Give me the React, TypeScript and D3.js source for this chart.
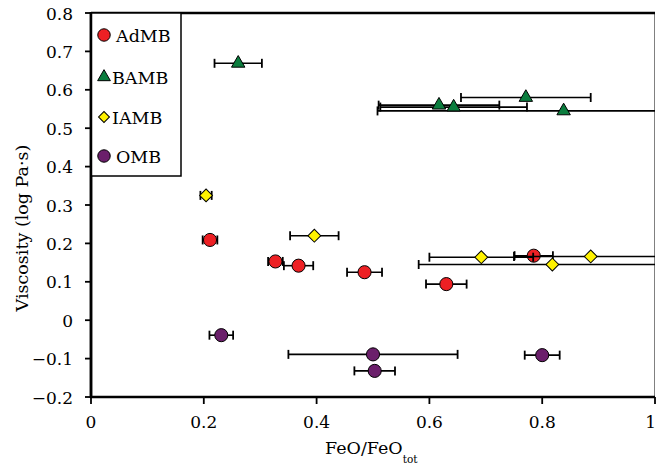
import { useEffect, useRef } from 'react';
import * as d3 from 'd3';

// FeO/FeOtot (x), viscosity log Pa·s (y), x error half-width
const admbX = [0.211, 0.327, 0.368, 0.485, 0.63, 0.785];
const admbY = [0.209, 0.153, 0.142, 0.125, 0.094, 0.168];
const admbErr = [0.013, 0.013, 0.026, 0.031, 0.036, 0.034];

const bambX = [0.261, 0.617, 0.643, 0.771, 0.838];
const bambY = [0.669, 0.56, 0.555, 0.58, 0.545];
const bambErr = [0.042, 0.107, 0.13, 0.115, 0.33];

const iambX = [0.204, 0.396, 0.692, 0.886, 0.818];
const iambY = [0.325, 0.22, 0.164, 0.166, 0.145];
const iambErr = [0.01, 0.043, 0.092, 0.136, 0.237];

const ombX = [0.231, 0.5, 0.503, 0.8];
const ombY = [-0.039, -0.089, -0.132, -0.091];
const ombErr = [0.021, 0.15, 0.036, 0.031];

const seriesNames = ['AdMB', 'BAMB', 'IAMB', 'OMB'];
const xTicks = [0, 0.2, 0.4, 0.6, 0.8, 1];
const yTicks = [-0.2, -0.1, 0, 0.1, 0.2, 0.3, 0.4, 0.5, 0.6, 0.7, 0.8];

const FONT = "'DejaVu Serif', serif";

export default function App() {
    const svgRef = useRef<SVGSVGElement>(null);

    useEffect(() => {
        if (!svgRef.current) return;
        const W = 656, H = 468;
        const left = 91, right = 655, top = 13, bottom = 397;

        const x = d3.scaleLinear().domain([0, 1]).range([left, right]);
        const y = d3.scaleLinear().domain([-0.2, 0.8]).range([bottom, top]);

        const series = [
            { name: seriesNames[0], xs: admbX, ys: admbY, err: admbErr, shape: 'circle', fill: '#ed2024' },
            { name: seriesNames[1], xs: bambX, ys: bambY, err: bambErr, shape: 'triangle', fill: '#0b7d3e' },
            { name: seriesNames[2], xs: iambX, ys: iambY, err: iambErr, shape: 'diamond', fill: '#fff200' },
            { name: seriesNames[3], xs: ombX, ys: ombY, err: ombErr, shape: 'circle', fill: '#6b1f6b' },
        ];

        const symbolPath = (shape: string, scale = 1) => {
            if (shape === 'triangle') return d3.symbol(d3.symbolTriangle, 78 * scale * scale)()!;
            if (shape === 'diamond') return d3.symbol(d3.symbolSquare, 82 * scale * scale)()!;
            return d3.symbol(d3.symbolCircle, 135 * scale * scale)()!;
        };

        const svg = d3.select(svgRef.current);
        svg.selectAll('*').remove();
        svg.attr('width', W).attr('height', H).style('font-family', FONT);

        svg.append('rect').attr('width', W).attr('height', H).attr('fill', '#fff');

        const defs = svg.append('defs');
        defs.append('clipPath').attr('id', 'plot-clip')
            .append('rect').attr('x', left).attr('y', top - 2).attr('width', right - left).attr('height', bottom - top + 4);

        // plot frame: thin grey right side, heavy top
        svg.append('line').attr('x1', right - 0.5).attr('x2', right - 0.5).attr('y1', top).attr('y2', bottom)
            .attr('stroke', '#808080').attr('stroke-width', 1);
        svg.append('line').attr('x1', left).attr('x2', right).attr('y1', top).attr('y2', top)
            .attr('stroke', '#000').attr('stroke-width', 2.5);

        const plot = svg.append('g').attr('clip-path', 'url(#plot-clip)');

        series.forEach(s => {
            const g = plot.append('g');
            s.xs.forEach((xv, i) => {
                const cy = y(s.ys[i]);
                const x0 = x(xv - s.err[i]), x1 = x(xv + s.err[i]);
                g.append('line').attr('x1', x0).attr('x2', x1).attr('y1', cy).attr('y2', cy)
                    .attr('stroke', '#000').attr('stroke-width', 1.6);
                [x0, x1].forEach(cx => {
                    g.append('line').attr('x1', cx).attr('x2', cx).attr('y1', cy - 4.5).attr('y2', cy + 4.5)
                        .attr('stroke', '#000').attr('stroke-width', 1.8);
                });
            });
            g.selectAll('path.m')
                .data(s.xs.map((xv, i) => [xv, s.ys[i]]))
                .join('path')
                .attr('class', 'm')
                .attr('d', symbolPath(s.shape))
                .attr('transform', d => `translate(${x(d[0])},${y(d[1])})${s.shape === 'diamond' ? ' rotate(45)' : ''}`)
                .attr('fill', s.fill)
                .attr('stroke', '#000').attr('stroke-width', 1);
        });

        // axes
        svg.append('line').attr('x1', left).attr('x2', left).attr('y1', top - 1).attr('y2', bottom + 1)
            .attr('stroke', '#000').attr('stroke-width', 2.5);
        svg.append('line').attr('x1', left - 1).attr('x2', right).attr('y1', bottom).attr('y2', bottom)
            .attr('stroke', '#000').attr('stroke-width', 2.5);

        const fmt = (v: number) => (Math.abs(v) < 1e-9 ? '0' : d3.format('.1~f')(v));

        yTicks.forEach(t => {
            svg.append('line').attr('x1', left - 6).attr('x2', left).attr('y1', y(t)).attr('y2', y(t))
                .attr('stroke', '#000').attr('stroke-width', 1.8);
            svg.append('text').attr('x', 73).attr('y', y(t) + 6.5)
                .attr('text-anchor', 'end').attr('font-size', 17)
                .text(fmt(t));
        });

        xTicks.forEach(t => {
            svg.append('line').attr('x1', x(t)).attr('x2', x(t)).attr('y1', bottom).attr('y2', bottom + 7)
                .attr('stroke', '#000').attr('stroke-width', 1.8);
            const last = t === 1;
            svg.append('text').attr('x', last ? W : x(t)).attr('y', 428)
                .attr('text-anchor', last ? 'end' : 'middle').attr('font-size', 17)
                .text(fmt(t));
        });

        // axis titles
        const xt = svg.append('text').attr('x', 325).attr('y', 454).attr('font-size', 17.5);
        xt.append('tspan').text('FeO/FeO');
        xt.append('tspan').attr('font-size', 10.5).attr('dy', 9).text('tot');

        svg.append('text')
            .attr('transform', 'translate(28,228) rotate(-90)')
            .attr('text-anchor', 'middle').attr('font-size', 17.5)
            .text('Viscosity (log Pa·s)');

        // legend
        const leg = svg.append('g');
        leg.append('rect').attr('x', left).attr('y', top).attr('width', 90).attr('height', 163)
            .attr('fill', '#fff').attr('stroke', '#000').attr('stroke-width', 1.5);
        const legY = [35, 77, 117, 156];
        series.forEach((s, i) => {
            leg.append('path')
                .attr('d', symbolPath(s.shape, s.shape === 'diamond' ? 0.85 : 0.95))
                .attr('transform', `translate(104,${legY[i]})${s.shape === 'diamond' ? ' rotate(45)' : ''}`)
                .attr('fill', s.fill).attr('stroke', '#000').attr('stroke-width', 1);
            leg.append('text').attr('x', s.shape === 'circle' ? 116 : 112).attr('y', legY[i] + 6.5)
                .attr('font-size', 17.5)
                .text(s.name);
        });
        // redraw left axis over legend
        svg.append('line').attr('x1', left).attr('x2', left).attr('y1', top - 1).attr('y2', bottom + 1)
            .attr('stroke', '#000').attr('stroke-width', 2.5);
    }, []);

    return <svg ref={svgRef} style={{ position: 'absolute', left: 0, top: 0 }} />;
}
